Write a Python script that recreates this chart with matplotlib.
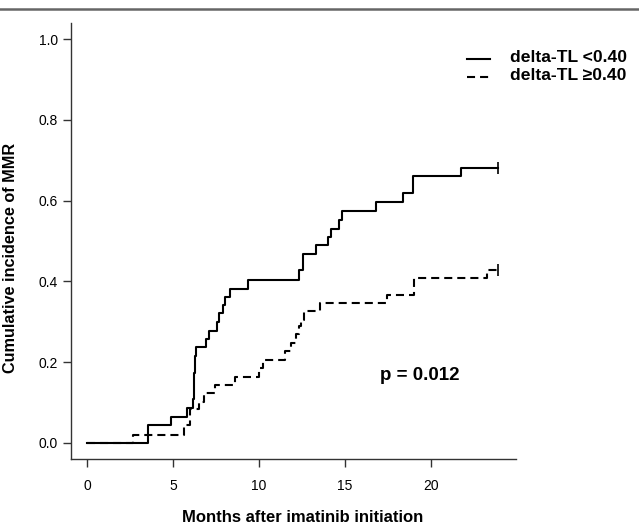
"""Cumulative incidence of MMR by delta-TL group (step curves)."""
import numpy as np
import matplotlib.pyplot as plt
from matplotlib.lines import Line2D

plt.rcParams.update({
    "font.family": ["Liberation Sans", "DejaVu Sans"], "font.size": 10,
    "lines.scale_dashes": False,
})

# event times (months) and cumulative incidence after each step
low_t = [0, 3.5, 4.84, 5.77, 6.15, 6.18, 6.2, 6.22, 6.25, 6.27, 6.3, 6.88, 7.07,
         7.52, 7.65, 7.88, 8.0, 8.28, 9.35, 12.32, 12.57, 13.31, 14.0, 14.17,
         14.67, 14.85, 16.8, 18.4, 18.95, 21.77]
low_v = [0, 0.044, 0.064, 0.087, 0.108, 0.13, 0.152, 0.173, 0.195, 0.216, 0.237,
         0.258, 0.278, 0.30, 0.321, 0.342, 0.362, 0.382, 0.404, 0.427, 0.468,
         0.489, 0.51, 0.53, 0.551, 0.575, 0.596, 0.619, 0.662, 0.68]
low_end = 23.94

high_t = [0, 2.66, 5.62, 5.96, 6.47, 6.76, 7.42, 8.6, 10.0, 10.24, 11.5, 11.85,
          12.15, 12.3, 12.45, 12.62, 13.52, 17.43, 18.99, 23.27]
high_v = [0, 0.0205, 0.043, 0.083, 0.102, 0.123, 0.143, 0.163, 0.186, 0.205,
          0.227, 0.248, 0.27, 0.29, 0.305, 0.326, 0.347, 0.367, 0.408, 0.429]
high_end = 23.94

labels = ["delta-TL <0.40", "delta-TL \u22650.40"]
p_text = "p = 0.012"

fig = plt.figure(figsize=(6.39, 5.24), dpi=100)
ax = fig.add_axes([71/639, 1-459/524, 445/639, 436/524])

dash = (0, (5.8, 3.6))
for t, v, end, ls in [(low_t, low_v, low_end, "-"), (high_t, high_v, high_end, dash)]:
    tt = np.append(t, end); vv = np.append(v, v[-1])
    ax.step(tt, vv, where="post", color="black", lw=1.5, ls=ls)
    ax.plot([end], [v[-1]], marker="|", ms=8, mew=1.2, color="black")

ax.set_xlim(-0.96, 24.96)
ax.set_ylim(-0.04, 1.04)
ax.set_xticks([0, 5, 10, 15, 20])
ax.set_yticks([0, 0.2, 0.4, 0.6, 0.8, 1.0], ["0.0", "0.2", "0.4", "0.6", "0.8", "1.0"])
ax.spines[["top", "right"]].set_visible(False)
for s in ["left", "bottom"]:
    ax.spines[s].set_linewidth(1.0)
    ax.spines[s].set_color("#333333")
ax.tick_params(length=5.5, width=1.0, color="#333333", labelsize=10, pad=4)
ax.tick_params(axis="x", pad=9)

ax.set_xlabel("Months after imatinib initiation", fontweight="bold", fontsize=12)
ax.xaxis.set_label_coords((303-71)/445, -51/436)
ax.set_ylabel("Cumulative incidence of MMR", fontweight="bold", fontsize=11.7)
ax.yaxis.set_label_coords(-53/445, (459-258)/436)

ax.text(380/639, 1-375/524, p_text, transform=fig.transFigure, fontsize=13.5,
        fontweight="bold", va="center", ha="left")

# legend drawn by hand to sit past the plotting box
for y, ls, lab in [(58, "-", labels[0]), (76, dash, labels[1])]:
    fig.add_artist(Line2D([467/639, 490/639], [1-(y+1)/524]*2, color="black", lw=1.5, ls=ls))
    fig.text(510/639, 1-y/524, lab, fontsize=12.6, fontweight="bold", va="center")

# grey rule across the top of the figure
fig.add_artist(Line2D([0, 1], [1-9/524]*2, color="#666666", lw=1.8))

fig.savefig("out.png", dpi=100)
